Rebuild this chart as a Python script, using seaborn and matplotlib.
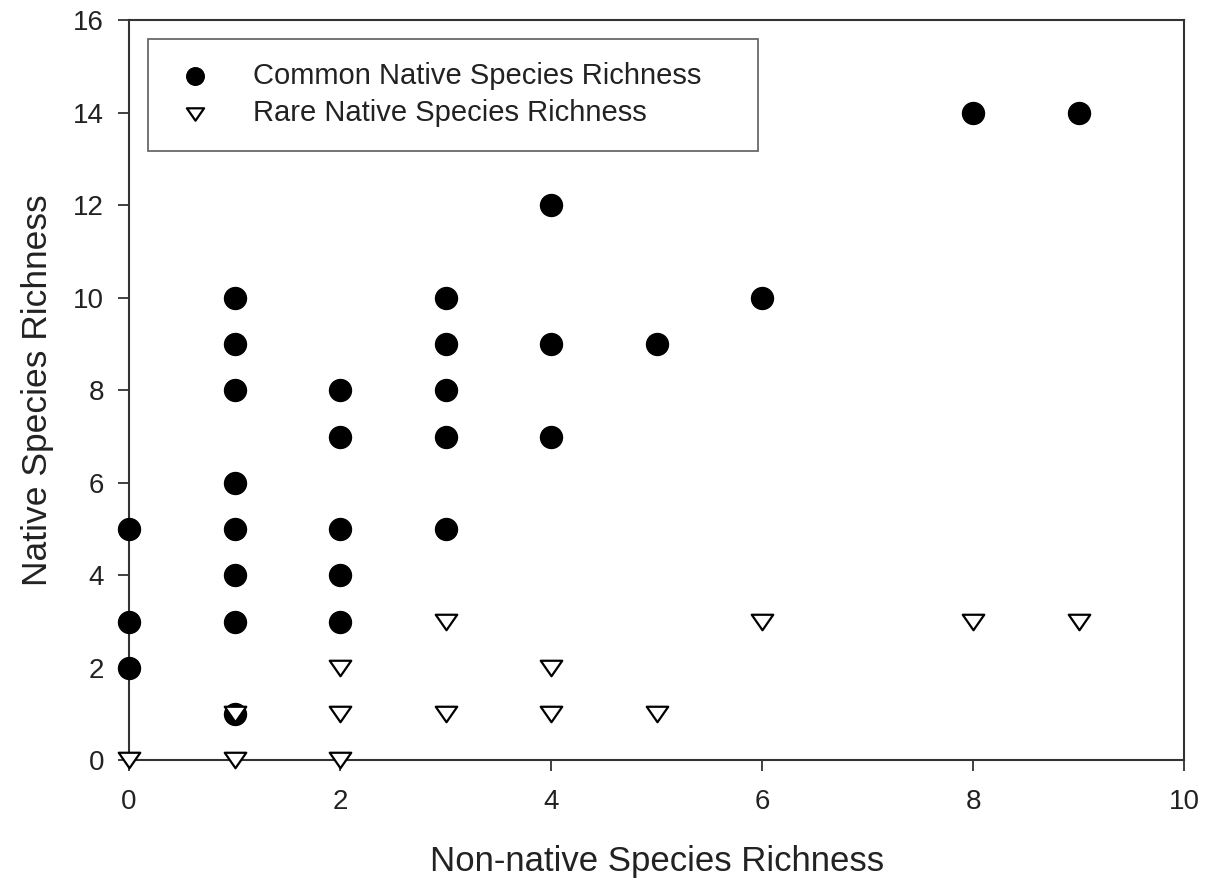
import numpy as np
import pandas as pd
import matplotlib
matplotlib.use("Agg")
import matplotlib.pyplot as plt
from matplotlib.path import Path
import seaborn as sns

# data
common_x = [0, 0, 0, 1, 1, 1, 1, 1, 1, 1, 1, 2, 2, 2, 2, 2, 3, 3, 3, 3, 3, 4, 4, 4, 5, 6, 8, 9]
common_y = [5, 3, 2, 10, 9, 8, 6, 5, 4, 3, 1, 8, 7, 5, 4, 3, 10, 9, 8, 7, 5, 12, 9, 7, 9, 10, 14, 14]

rare_x = [0, 1, 1, 2, 2, 2, 3, 3, 4, 4, 5, 6, 8, 9]
rare_y = [0, 1, 0, 2, 1, 0, 3, 1, 2, 1, 1, 3, 3, 3]

common = pd.DataFrame({"x": common_x, "y": common_y})
rare = pd.DataFrame({"x": rare_x, "y": rare_y})

sns.set_style("white")
plt.rcParams["font.family"] = ["Liberation Sans", "DejaVu Sans"]

# wide, flat down-triangle
tri = Path([(-1.0, 0.72), (1.0, 0.72), (0.0, -0.72), (-1.0, 0.72)],
           [Path.MOVETO, Path.LINETO, Path.LINETO, Path.CLOSEPOLY])

fig = plt.figure(figsize=(12.06, 8.83), dpi=100)
ax = fig.add_axes([0.107, 0.139, 0.875, 0.838])

sns.scatterplot(data=common, x="x", y="y", ax=ax, color="black", marker="o",
                s=250, edgecolor="black", linewidth=1, zorder=3,
                label="Common Native Species Richness", clip_on=False)
sns.scatterplot(data=rare, x="x", y="y", ax=ax, color="white", marker=tri,
                s=240, edgecolor="black", linewidth=1.6, zorder=4,
                label="Rare Native Species Richness", clip_on=False)

ax.set_xlim(0, 10)
ax.set_ylim(0, 16)
ax.set_xticks(range(0, 11, 2))
ax.set_yticks(range(0, 17, 2))

ax.set_xlabel("Non-native Species Richness", fontsize=25, color="#222222", labelpad=21)
ax.set_ylabel("Native Species Richness", fontsize=25.5, color="#222222", labelpad=14)

for sp in ax.spines.values():
    sp.set_visible(True)
    sp.set_color("#333333")
    sp.set_linewidth(1.5)

ax.tick_params(axis="both", which="both", direction="out", length=8, width=1.3,
               color="#333333", labelsize=20, labelcolor="#222222",
               left=True, bottom=True, top=False, right=False)
ax.tick_params(axis="x", pad=13)
ax.tick_params(axis="y", pad=10)

leg = ax.legend(loc="upper left", bbox_to_anchor=(0.018, 0.975, 0.578, 0.0),
                mode="expand", fontsize=21,
                frameon=True, fancybox=False, edgecolor="#444444",
                borderpad=0.8, handletextpad=1.2, labelspacing=0.32,
                borderaxespad=0, markerscale=0.8, handlelength=1.6)
leg.get_frame().set_linewidth(1.3)
for t in leg.get_texts():
    t.set_color("#222222")

fig.savefig("out.png", dpi=100)
